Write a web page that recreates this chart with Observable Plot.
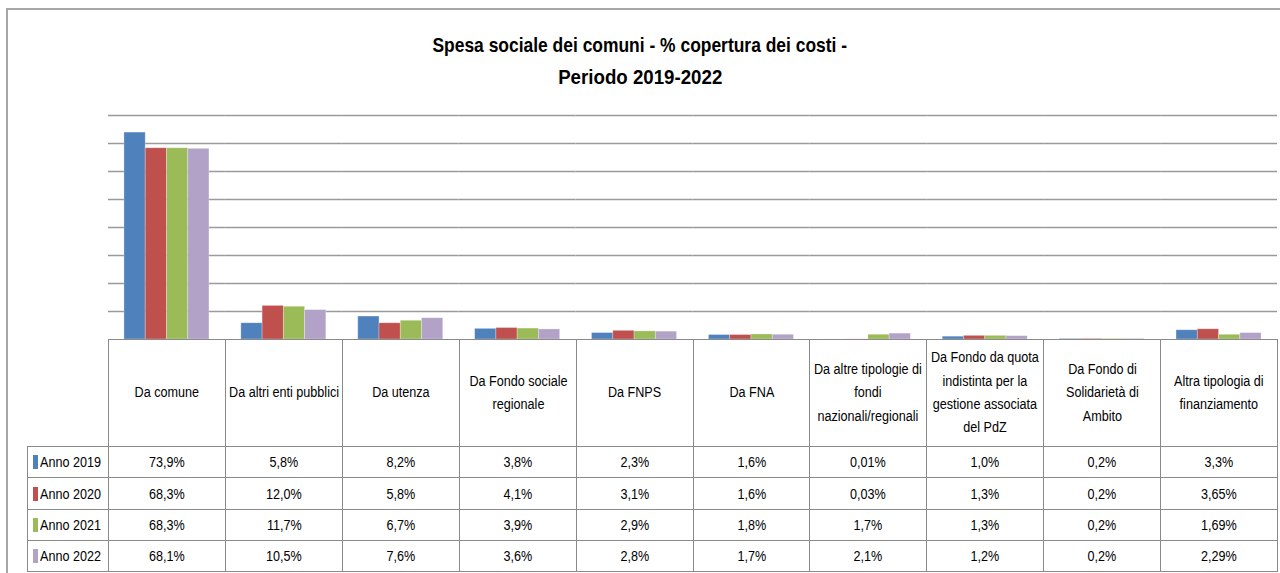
<!DOCTYPE html>
<html>
<head>
<meta charset="utf-8">
<script src="https://cdn.jsdelivr.net/npm/d3@7"></script>
<script src="https://cdn.jsdelivr.net/npm/@observablehq/plot@0.6"></script>
<style>
  html, body { margin: 0; padding: 0; background: #fff; }
  body { width: 1280px; height: 573px; position: relative; overflow: hidden;
         font-family: "Liberation Sans", Arial, sans-serif; color: #000; }
  #frame { position: absolute; left: 6px; top: 8px; width: 1300px; height: 600px;
           border-left: 2px solid #a6a6a6; border-top: 2px solid #a6a6a6; box-sizing: border-box; }
  #title { position: absolute; left: 0; top: 29px; width: 1280px; text-align: center;
           font-weight: bold; font-size: 21px; line-height: 32px; }
  #title span { display: inline-block; transform-origin: center; white-space: nowrap; }
  #title .l1 { transform: scaleX(0.83); }
  #title .l2 { transform: scaleX(0.89); }
  #chart { position: absolute; left: 0; top: 100px; }
  .cell { position: absolute; box-sizing: border-box; display: flex; align-items: center; justify-content: center;
          text-align: center; border: 1px solid #8a8a8a; background: transparent; }
  .cell .t { display: inline-block; transform: scaleX(0.9); transform-origin: center; white-space: nowrap; }
  .hdr { font-size: 14px; line-height: 23.3px; }
  .val { font-size: 14px; }
  .leg { justify-content: flex-start; font-size: 14px; }
  .leg .t { transform-origin: left center; }
  .sw { display: inline-block; width: 10px; height: 14px; margin: 0 2px 0 5px; vertical-align: -2px; }
</style>
</head>
<body>
<div id="frame"></div>
<div id="title"><span class="l1">Spesa sociale dei comuni - % copertura dei costi -</span><br><span class="l2">Periodo 2019-2022</span></div>
<div id="chart"></div>
<div id="table"></div>
<script>
// ---- data ----
const categories = [
  "Da comune", "Da altri enti pubblici", "Da utenza", "Da Fondo sociale regionale",
  "Da FNPS", "Da FNA", "Da altre tipologie di fondi nazionali/regionali",
  "Da Fondo da quota indistinta per la gestione associata del PdZ",
  "Da Fondo di Solidarietà di Ambito", "Altra tipologia di finanziamento"
];
const categoryLines = [
  ["Da comune"], ["Da altri enti pubblici"], ["Da utenza"], ["Da Fondo sociale", "regionale"],
  ["Da FNPS"], ["Da FNA"], ["Da altre tipologie di", "fondi", "nazionali/regionali"],
  ["Da Fondo da quota", "indistinta per la", "gestione associata", "del PdZ"],
  ["Da Fondo di", "Solidarietà di", "Ambito"], ["Altra tipologia di", "finanziamento"]
];
const years = ["Anno 2019", "Anno 2020", "Anno 2021", "Anno 2022"];
const colors = ["#4F81BD", "#C0504D", "#9BBB59", "#B3A2C7"];
const anno2019 = ["73,9%", "5,8%", "8,2%", "3,8%", "2,3%", "1,6%", "0,01%", "1,0%", "0,2%", "3,3%"];
const anno2020 = ["68,3%", "12,0%", "5,8%", "4,1%", "3,1%", "1,6%", "0,03%", "1,3%", "0,2%", "3,65%"];
const anno2021 = ["68,3%", "11,7%", "6,7%", "3,9%", "2,9%", "1,8%", "1,7%", "1,3%", "0,2%", "1,69%"];
const anno2022 = ["68,1%", "10,5%", "7,6%", "3,6%", "2,8%", "1,7%", "2,1%", "1,2%", "0,2%", "2,29%"];
const gridTicks = [10, 20, 30, 40, 50, 60, 70, 80];

const seriesLabels = [anno2019, anno2020, anno2021, anno2022];
const toNum = s => parseFloat(s.replace("%", "").replace(",", "."));
const data = [];
categories.forEach((c, i) => {
  years.forEach((y, j) => data.push({category: c, year: y, value: toNum(seriesLabels[j][i])}));
});

// ---- chart ----
const plotLeft = 108, plotRight = 1277;
const chart = Plot.plot({
  width: 1280, height: 240,
  marginLeft: plotLeft, marginRight: 1280 - plotRight, marginTop: 15, marginBottom: 1,
  facet: {data, x: "category"},
  fx: {domain: categories, range: [plotLeft, plotRight], padding: 0, round: false, axis: null, label: null},
  x: {domain: years, paddingInner: 0, paddingOuter: 0.75, round: false, axis: null},
  y: {domain: [0, 80], axis: null},
  color: {domain: years, range: colors},
  style: {background: "transparent", overflow: "visible"},
  marks: [
    Plot.ruleY(gridTicks, {stroke: "#9a9a9a", strokeWidth: 1.6}),
    Plot.barY(data, {x: "year", y: "value", fill: "year", stroke: "#ffffff", strokeOpacity: 0.35, strokeWidth: 0.8})
  ]
});
document.getElementById("chart").appendChild(chart);

// ---- data table aligned to the fx scale ----
const fxs = chart.scale("fx");
const bw = fxs && fxs.bandwidth != null ? fxs.bandwidth : (plotRight - plotLeft) / categories.length;
const colX = c => Math.round(fxs && fxs.apply ? fxs.apply(c) : plotLeft + categories.indexOf(c) * bw);
const colW = i => (i < categories.length - 1 ? colX(categories[i + 1]) : Math.round(colX(categories[i]) + bw)) - colX(categories[i]);
const chartTop = 100;
const baseY = chartTop + 239;           // zero line of the y scale
const hdrH = 107, legL = 27;
const rowTops = [446, 477, 509, 540, 571];
const tbl = document.getElementById("table");
function cell(x, y, w, h, cls, html) {
  const d = document.createElement("div");
  d.className = "cell " + cls;
  d.style.left = x + "px"; d.style.top = y + "px";
  d.style.width = (w + 1) + "px"; d.style.height = (h + 1) + "px";
  d.innerHTML = html;
  tbl.appendChild(d);
}
categories.forEach((c, i) => {
  const x = colX(c), w = colW(i);
  cell(x, baseY, w, rowTops[0] - baseY, "hdr", `<span class="t">${categoryLines[i].join("<br>")}</span>`);
  years.forEach((y, j) => {
    cell(x, rowTops[j], w, rowTops[j + 1] - rowTops[j], "val", `<span class="t">${seriesLabels[j][i]}</span>`);
  });
});
const firstX = colX(categories[0]);
years.forEach((y, j) => {
  cell(legL, rowTops[j], firstX - legL, rowTops[j + 1] - rowTops[j], "leg",
       `<span class="sw" style="background:${colors[j]}"></span><span class="t">${y}</span>`);
});
</script>
</body>
</html>
